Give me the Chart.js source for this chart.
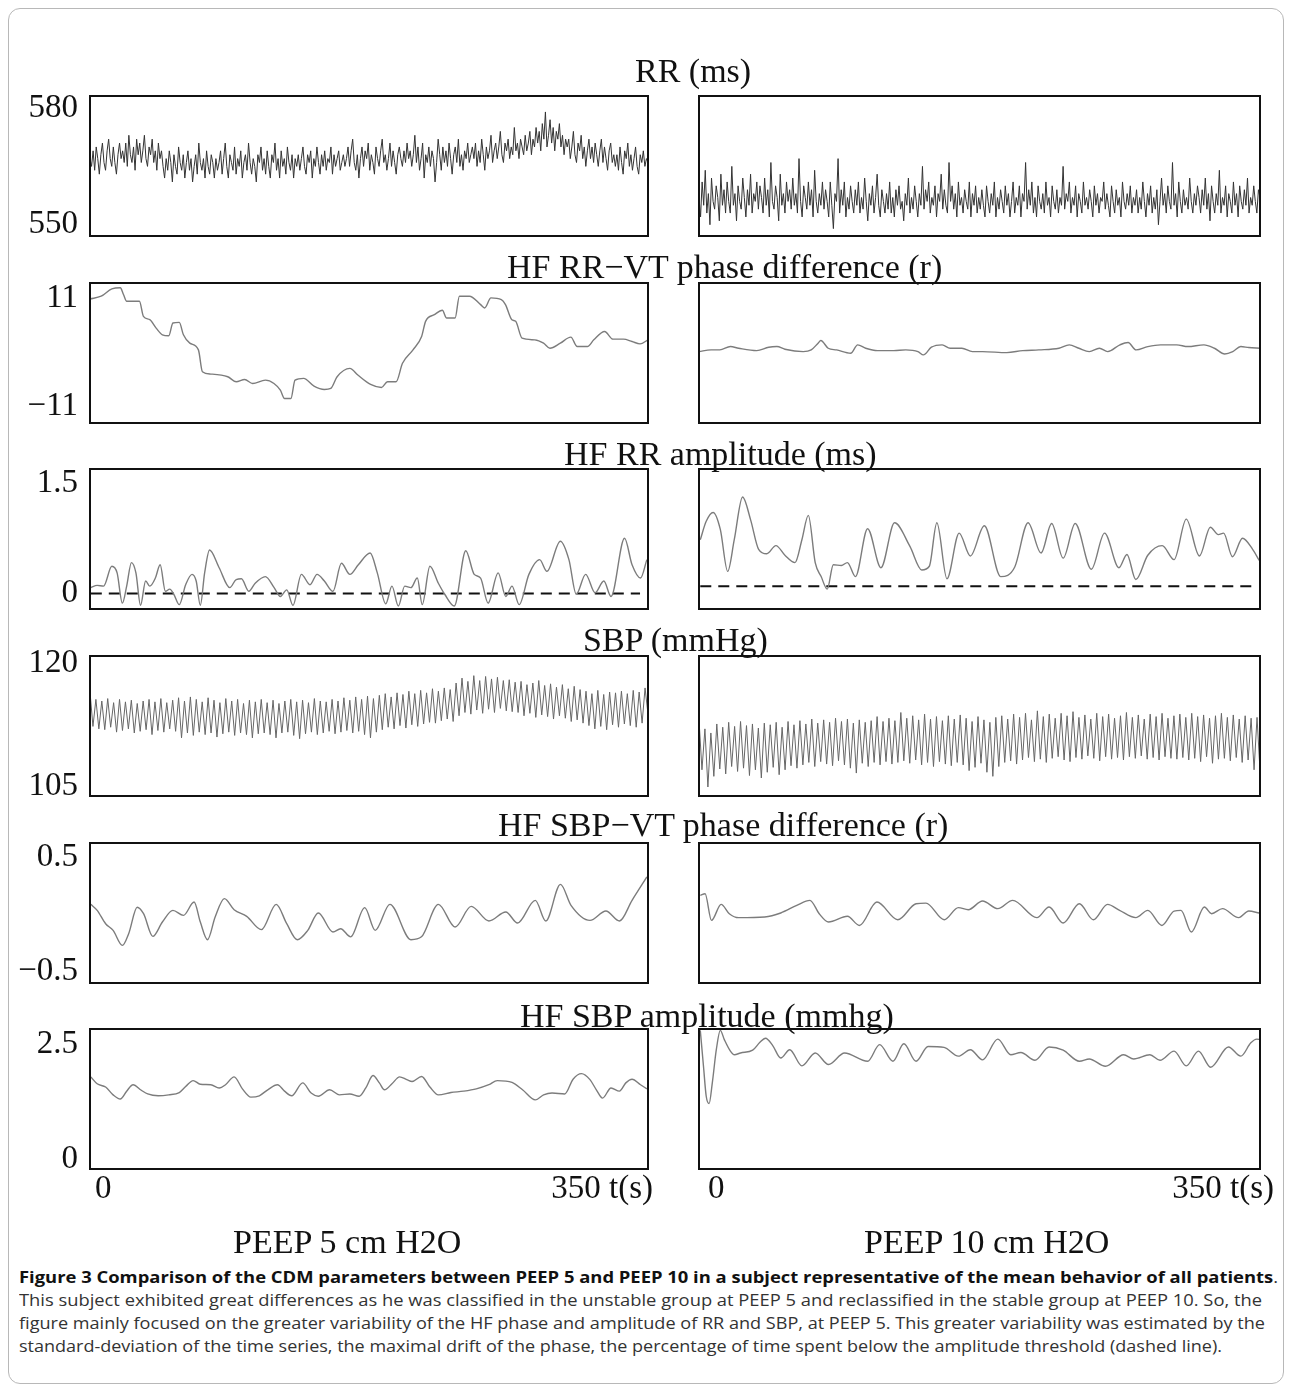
<!DOCTYPE html>
<html><head><meta charset="utf-8">
<script src="https://cdn.jsdelivr.net/npm/chart.js@4.4.1/dist/chart.umd.min.js"></script>
<style>
html,body{margin:0;padding:0;background:#fff;}
body{width:1292px;height:1391px;position:relative;overflow:hidden;font-family:"Liberation Serif","Times New Roman",serif;}
#frame{position:absolute;left:8px;top:8px;width:1276px;height:1376px;border:1px solid #b8b8b8;border-radius:12px;box-sizing:border-box;}
canvas{position:absolute;}
.ttl{position:absolute;font-size:34px;line-height:34px;white-space:nowrap;color:#111;z-index:2;}
.cap{position:absolute;left:19px;font-family:"Open Sans",sans-serif;font-size:16px;line-height:23px;white-space:nowrap;color:#333;transform-origin:0 50%;}
.cap b{color:#111;}
</style></head><body>
<div id="frame"></div>
<script>
// ---------- text ----------
const TITLES = ['RR (ms)', 'HF RR\u2212VT phase difference (r)', 'HF RR amplitude (ms)', 'SBP (mmHg)', 'HF SBP\u2212VT phase difference (r)', 'HF SBP amplitude (mmhg)'];
const CONDITIONS = ['PEEP 5 cm H2O', 'PEEP 10 cm H2O'];
const X_TICKS = [0, 350];
const X_TICK_TEXT = ['0', '350 t(s)'];

// ---------- RR (ms) ----------
const RR_TICKS = [550, 580];
const rrPeep5 = [567,565,569,564,570,567,563,568,571,566,564,569,572,567,565,570,566,563,568,571,567,
569,566,571,565,573,568,566,570,564,572,568,571,566,569,573,567,565,570,568,572,566,569,564,571,567,569,
565,562,567,564,569,566,561,568,565,563,570,566,564,568,562,566,569,564,567,561,565,568,563,571,566,564,567,562,569,565,563,568,566,562,567,564,
566,569,563,567,571,565,562,568,566,564,570,563,567,565,569,562,566,568,564,571,566,563,567,565,561,568,566,570,564,567,563,569,565,562,568,566,571,564,567,562,569,565,567,563,570,566,564,568,562,567,565,
568,564,567,570,565,563,568,566,569,562,567,565,570,566,563,568,565,569,564,567,566,570,563,568,565,567,569,564,566,568,565,
567,570,565,569,572,566,564,568,562,567,570,565,569,567,571,564,568,566,563,570,567,565,569,572,566,568,564,567,571,565,569,566,563,568,570,567,565,569,566,571,567,
569,565,568,573,566,570,564,567,571,562,568,566,570,565,569,567,561,566,572,568,564,570,566,569,565,571,567,563,568,570,566,572,565,568,564,569,567,571,566,568,570,
567,571,565,569,566,572,568,564,570,567,569,573,566,569,571,567,570,574,568,566,571,569,572,567,570,568,575,569,571,567,572,570,568,573,569,571,574,568,572,570,575,
571,574,569,576,572,579,570,573,577,571,575,569,574,572,576,570,573,568,572,570,
572,567,570,574,568,566,571,569,573,567,570,565,569,572,567,570,566,571,568,565,569,572,566,570,567,564,569,571,566,568,565,
568,564,570,566,563,569,567,571,565,568,564,567,570,565,563,568,566,569,565,567,566];
const rrPeep10 = [557,552,561,555,564,553,558,550,562,556,554,560,557,551,563,555,559,553,561,556,
553,565,555,558,551,560,556,554,562,557,552,559,555,563,553,558,556,561,554,560,
557,553,562,555,559,552,566,556,554,560,557,551,563,555,558,553,561,556,559,554,
562,555,558,553,567,556,552,560,557,554,561,555,559,552,564,556,553,558,555,561,
554,559,556,552,561,555,549,558,556,567,553,559,555,561,552,557,554,560,556,553,
559,555,561,553,557,554,562,556,551,558,555,560,553,557,563,555,552,559,556,553,
558,554,561,553,557,552,559,555,560,554,556,551,558,555,562,553,557,554,560,556,
552,558,555,565,554,559,556,561,553,557,555,560,552,558,556,563,554,559,555,553,
566,556,560,554,558,552,561,555,557,553,559,556,554,561,552,558,555,560,553,557,
554,559,555,552,560,556,553,558,555,561,552,557,554,559,556,553,560,555,558,552,
556,561,553,557,555,560,552,558,556,566,554,559,555,561,553,557,552,560,556,554,
558,553,561,555,557,552,560,556,554,559,553,557,555,565,554,558,556,561,553,557,
555,560,552,558,556,553,561,555,557,554,559,556,552,560,555,558,553,557,556,561,
554,558,555,552,560,556,553,559,555,557,552,561,556,554,558,555,560,553,557,555,
559,553,557,554,561,556,552,558,555,560,553,557,554,559,550,556,562,555,558,553,
560,556,554,566,555,558,552,561,556,553,559,555,557,554,562,556,553,558,555,560,
557,553,559,555,562,554,558,551,560,556,553,558,555,564,553,557,555,560,552,558,
556,553,561,555,558,552,560,556,554,559,555,562,553,557,555,560,556,553,559,557];

// ---------- HF RR-VT phase difference ----------
const PH_RR_TICKS = [-11, 11];
const phRRTime5 = [0,7,13.7,19,21,23,31,33.5,37.5,41.5,45.4,49.4,52,56,58.6,62.6,68,70.5,75.8,86.4,91.7,97,102,110,115.4,119.4,122,126,128.6,134,140.5,147,151,155,163,168,176,182.8,186.6,192,196,202.6,208,210.5,216,221,223.7,229,231.7,238,245,247.5,251.5,258,260.6,264.6,267,271,279,284.5,288.5,295,301.6,305.6,312,316,322.8,328,334.6,340,345,350];
const phRR5 = [10.86,11.41,12.91,13.12,11.75,10.39,10.39,7.31,6.63,4.92,3.55,3.35,5.95,6.08,3.55,1.85,0.48,-3.96,-4.44,-4.98,-6.01,-5.53,-6.35,-5.67,-6.35,-7.72,-9.42,-9.42,-5.67,-5.32,-6.90,-7.58,-7.37,-4.98,-3.28,-4.64,-6.55,-7.17,-6.01,-6.01,-2.25,0.48,3.21,6.29,7.65,8.54,6.97,6.97,11.41,11.41,9.70,9.02,11.07,10.73,9.70,6.63,6.29,2.87,2.53,1.85,0.82,1.85,3.08,1.16,1.16,2.53,4.24,2.67,2.67,2.19,1.71,2.53];
const phRRTime10 = [0,7.5,13,19.6,24.7,36,43.5,48.6,53.6,65,70,74.3,76,80.6,85.8,94.6,99,104,111.4,121.5,129,136.6,140,145,151.7,156.7,164,170.6,177,192,202,212,224.6,231,237,243.5,249.8,255,262.6,267.7,272.7,280,288,298,305,315,321.6,328,333,338,343,350];
const phRR10 = [0.14,0.48,0.48,1.16,0.82,0.34,1.03,1.16,0.62,0.14,0.48,1.85,2.39,0.82,0.48,-0.20,1.51,0.82,0.34,0.34,0.48,0.14,-0.54,1.03,1.51,0.82,0.82,0.14,0.14,-0.07,0.34,0.48,0.82,1.51,0.82,0.14,0.82,0.14,1.51,1.98,0.48,1.16,1.51,1.51,1.16,1.51,0.82,-0.34,0.14,1.16,0.96,0.82];

// ---------- HF RR amplitude ----------
const AMP_RR_TICKS = [0, 1.5];
const ampRRTime5 = [0.5,4.5,8.5,13.7,17,20.3,23,26,28.8,31.7,34.9,37.5,41,44,47.3,50,52.6,56,60,64,66.6,69.2,71.9,75,81,87.7,91.7,95,99.6,103.6,110,115.5,119.4,123.4,127.3,132.6,138,142.4,147,152.4,157.7,163,168.3,175.7,180.2,185.5,189.4,193.4,197.4,201.3,205.3,208.4,213.2,218.5,222.5,228.5,235.7,241,245,249.7,256,260.8,264.7,269.2,275.3,282,286.6,295,300.4,305,310.9,316.8,322.3,326.8,335.3,340,345.3,349.3];
const ampRR5 = [0.08,0.11,0.10,0.37,0.28,-0.13,0.10,0.42,0.28,-0.16,0.17,0.10,0.21,0.39,0.03,0.06,-0.01,-0.15,0.12,0.26,0.17,-0.16,0.28,0.59,0.35,0.08,0.19,0.20,0.03,0.14,0.23,0.08,-0.04,0.05,-0.16,0.26,0.12,0.26,0.17,0.03,0.41,0.26,0.39,0.55,0.28,-0.14,0.10,-0.17,0.10,0.08,0.21,-0.15,0.37,0.14,-0.01,-0.17,0.58,0.26,0.21,-0.13,0.28,-0.04,0.10,-0.15,0.26,0.46,0.30,0.71,0.46,-0.01,0.26,0.01,0.17,-0.04,0.75,0.39,0.21,0.46];
const ampRRTime10 = [0.8,4.5,8.8,13.3,17.9,22,27.2,32.2,37.2,42.3,48,53.6,59.9,64.2,68.2,72.5,76.2,80,83.8,88.8,92.6,97.6,105.2,113.5,122,131.6,139,143.7,148.4,154.7,162.3,169.3,178,188.2,197,205.3,213.4,220,227.2,234.7,244.8,253,262,267,272.5,280,289,296.4,304,312.2,319,324,327.3,332.8,339.1,345.4,349.5];
const ampRR10 = [0.73,0.98,1.10,0.87,0.30,0.73,1.31,1.00,0.60,0.54,0.65,0.52,0.42,0.73,1.06,0.42,0.23,0.06,0.39,0.38,0.42,0.23,0.88,0.35,0.96,0.64,0.32,0.37,0.96,0.20,0.82,0.51,0.92,0.23,0.36,0.96,0.55,0.95,0.48,0.95,0.33,0.82,0.35,0.53,0.19,0.52,0.65,0.46,1.01,0.51,0.90,0.80,0.82,0.50,0.75,0.60,0.45];
const ampRRThreshold5 = 0;
const ampRRThreshold10 = 0.1;

// ---------- SBP (mmHg) ----------
const SBP_TICKS = [105, 120];
const sbpPeep5 = [116.5,112.3,115.6,112.0,
115.4,111.9,115.7,112.2,115.2,111.6,115.6,111.8,115.3,112.0,115.5,111.5,115.1,111.7,115.4,111.9,115.6,111.3,115.3,111.8,115.7,111.6,115.2,112.0,115.5,111.7,
115.8,110.9,115.4,111.5,115.9,111.2,115.6,111.6,115.3,111.3,115.8,111.5,115.5,111.0,115.2,111.4,115.7,111.6,115.4,111.2,115.6,111.5,115.1,111.3,115.5,110.9,115.3,111.4,115.6,111.5,
115.2,111.3,115.5,110.9,115.1,111.5,115.4,111.6,115.6,111.2,115.3,110.8,115.5,111.4,115.2,111.6,115.7,111.3,115.4,111.5,115.3,111.7,115.6,111.4,115.4,111.6,115.8,111.8,115.5,111.5,115.9,111.7,115.6,111.3,116.0,110.9,115.7,111.6,
116.1,111.9,116.3,112.2,115.9,112.0,116.4,112.4,116.2,112.1,116.6,112.5,116.3,112.3,116.7,112.6,116.4,112.8,116.9,112.7,116.6,113.0,117.0,113.2,116.8,112.9,
117.6,113.6,118.2,114.0,117.8,113.8,118.5,114.3,117.9,113.9,118.4,114.4,118.1,114.0,118.3,114.5,117.9,114.2,118.0,114.1,117.7,114.0,
117.8,113.6,117.4,113.9,117.6,113.4,117.9,113.7,117.3,113.5,117.5,113.2,117.1,113.6,117.4,113.3,116.9,112.9,117.2,113.1,116.8,112.7,
116.6,112.4,116.3,112.0,116.7,112.3,116.2,111.9,116.5,112.5,116.4,112.2,116.6,112.6,116.3,112.4,116.7,112.2,116.5,112.7,117.0,113.8];
const sbpPeep10 = [113.1,107.0,112.0,104.9,111.5,106.2,
112.6,107.1,112.2,106.5,112.8,107.4,112.3,106.8,112.9,107.2,112.4,106.3,112.6,107.0,112.1,106.0,112.7,106.7,112.5,107.3,112.8,106.4,112.2,107.0,112.9,107.5,112.5,107.2,
113.0,107.6,112.6,107.9,113.2,107.4,112.7,108.0,113.1,107.7,112.8,107.5,113.3,108.1,112.9,107.6,113.2,107.2,112.7,106.6,113.1,107.8,112.8,107.4,113.0,107.9,113.5,107.6,112.9,108.0,113.3,107.7,113.0,107.9,
114.0,108.1,113.3,107.8,113.6,108.2,113.1,107.6,113.8,107.9,113.2,107.4,113.5,108.0,113.0,107.7,113.6,107.5,113.2,107.9,113.7,107.6,113.3,106.9,112.9,107.3,113.5,107.8,113.1,106.7,112.8,106.2,113.4,107.4,113.6,107.9,113.2,108.1,113.8,107.7,
113.4,108.2,113.9,108.5,113.1,108.0,114.2,108.3,113.5,107.9,113.8,108.4,113.3,108.6,113.9,108.2,113.6,108.0,114.1,108.5,113.4,108.3,113.7,108.7,113.2,108.4,113.9,108.1,113.5,108.6,113.8,108.3,113.3,108.5,113.6,108.2,114.0,108.6,113.4,108.4,113.7,108.7,113.2,108.3,113.8,108.5,113.5,108.2,113.9,108.6,113.3,108.4,113.6,108.3,
113.8,108.5,113.4,108.2,113.9,108.4,113.5,108.0,113.7,108.6,113.3,107.8,113.6,108.3,113.9,108.4,113.4,108.1,113.7,108.5,113.2,107.9,113.6,108.2,113.3,107.0,113.4,106.9];

// ---------- HF SBP-VT phase difference ----------
const PH_SBP_TICKS = [-0.5, 0.5];
const phSBPTime5 = [0.5,4.5,9.8,14.5,20.3,24.3,29.6,33.6,39.4,45.4,52,58.6,65.3,69.2,73.7,78.5,84.3,90.4,98.3,107.5,116.8,123.4,130,136.6,143.2,152.4,157.2,163.5,172.3,178.9,188.1,201.3,207.9,218.5,229,239.1,250.2,260.8,268.2,279.3,285.9,295.1,301.7,313.6,323.6,332.1,340,349.3];
const phSBP5 = [0.085,0.032,-0.085,-0.143,-0.275,-0.17,0.06,0.003,-0.196,-0.07,0.032,-0.012,0.105,-0.07,-0.225,-0.026,0.135,0.038,-0.02,-0.137,0.085,-0.085,-0.225,-0.143,0.009,-0.158,-0.129,-0.2,0.056,-0.143,0.085,-0.225,-0.2,0.085,-0.114,0.067,-0.061,0.018,-0.079,0.12,-0.061,0.26,0.076,-0.056,0.026,-0.061,0.12,0.325];
const phSBPTime10 = [0.8,3.8,7.8,13.8,18.9,24.7,41,51,61,69.2,75,80.8,92.6,100.1,111,124,135.4,141.6,153,161.8,168,176.9,186.4,195.7,210.8,218.4,227.2,237.3,246,254.9,262.4,272.5,280,288.8,296.4,300.7,307.2,315.3,319.8,326.6,336.7,343,349.5];
const phSBP10 = [0.164,0.178,-0.056,0.085,0.003,-0.032,-0.026,0.009,0.076,0.12,0.003,-0.07,-0.02,-0.1,0.105,-0.05,0.09,0.096,-0.05,0.056,0.038,0.114,0.047,0.12,-0.032,0.061,-0.079,0.09,-0.05,0.085,0.032,-0.032,0.032,-0.1,0.026,0.032,-0.158,0.061,0.003,0.047,-0.032,0.026,0.009];

// ---------- HF SBP amplitude ----------
const AMP_SBP_TICKS = [0, 2.5];
const ampSBPTime5 = [0.5,4.5,9.8,14.5,19,23,27,32.2,36.2,42.8,49.4,56,60,64.7,69.2,75.8,81,85,90.4,95.6,100.9,106.2,111.5,117.6,122,126.5,133.4,138.7,143.2,150.3,156.4,163,168.8,173,177.5,181.5,184.7,189.4,194.2,198.7,202,208,213.2,218.5,226.4,234.3,242.3,250.2,255.5,264.7,271.3,279.3,284.5,289.8,297.8,303,308.3,313.6,317.6,321.5,326.8,332.1,336.1,340,345.3,349.3];
const ampSBP5 = [1.80,1.65,1.58,1.41,1.32,1.49,1.63,1.51,1.43,1.39,1.41,1.46,1.59,1.72,1.64,1.63,1.56,1.63,1.80,1.54,1.36,1.39,1.52,1.63,1.49,1.39,1.67,1.45,1.38,1.52,1.41,1.43,1.38,1.56,1.83,1.67,1.52,1.65,1.80,1.74,1.70,1.81,1.58,1.41,1.46,1.49,1.54,1.63,1.72,1.68,1.52,1.30,1.41,1.45,1.43,1.75,1.87,1.74,1.52,1.34,1.56,1.49,1.67,1.75,1.63,1.54];
const ampSBPTime10 = [0.8,2.8,4.5,6.3,8.3,10.8,13.3,15.8,19.6,22.1,25.9,33.5,38,41.5,46,51,56.6,64.2,72.5,80.8,90.8,105.2,112.7,121,127.8,135.4,142.9,152.9,161.8,169.3,176.9,186.4,194.5,200.8,209.6,218.4,227.2,237.3,243.5,253.6,264.9,271.2,281.3,287.6,296.4,304,311.6,319.2,330.3,338,344.3,348,350];
const ampSBP10 = [2.81,2.03,1.38,1.22,1.67,2.39,2.81,2.61,2.36,2.28,2.32,2.38,2.55,2.64,2.48,2.21,2.39,2.04,2.32,2.07,2.32,2.14,2.50,2.14,2.52,2.14,2.46,2.44,2.25,2.39,2.17,2.62,2.28,2.33,2.16,2.45,2.38,2.14,2.19,2.03,2.28,2.19,2.28,2.16,2.36,2.04,2.36,2.01,2.45,2.25,2.54,2.62,2.61];

// ---------- layout (presentation only) ----------
const ROW_TOP = [96, 283, 469, 656, 843, 1029];
const BOX_H = 140;
const COL = [{canvasLeft:0, width:660, padL:0, padR:12, axisW:90, x0Off:5, x1Off:5},
             {canvasLeft:680, width:600, padL:19, padR:20, axisW:0, x0Off:9, x1Off:14}];
const PAD_T = 42, PAD_B = 42;
const SERIF = '"Liberation Serif", "Times New Roman", serif';

function pts(times, vals){ return vals.map((v,i)=>({x:times[i], y:v})); }
function densePts(vals){ const n = vals.length; return vals.map((v,i)=>({x: X_TICKS[1]*i/(n-1), y:v})); }

const boxPlugin = {id:'box', afterDraw(chart){ const a = chart.chartArea, c = chart.ctx; c.save(); c.strokeStyle='#111'; c.lineWidth=2; c.strokeRect(a.left, a.top, a.right-a.left, a.bottom-a.top); c.restore(); }};
function xLabelPlugin(col){ return {id:'xlab', afterDraw(chart){
  const s = chart.scales.x, a = chart.chartArea, c = chart.ctx; c.save();
  c.fillStyle='#111'; c.font = '33px ' + SERIF; c.textBaseline='middle';
  c.textAlign='left'; c.fillText(X_TICK_TEXT[0], s.getPixelForValue(X_TICKS[0]) + COL[col].x0Off, a.bottom + 20);
  c.textAlign='right'; c.fillText(X_TICK_TEXT[1], s.getPixelForValue(X_TICKS[1]) + COL[col].x1Off, a.bottom + 20);
  c.restore(); }}; }

const SMOOTH = {borderColor:'#7c7c7c', borderWidth:1.4, cubicInterpolationMode:'monotone'};
const NOISY_RR = {borderColor:'#333', borderWidth:1, tension:0};
const NOISY_SBP = {borderColor:'#666', borderWidth:1, tension:0};
function dashed(y, x0, x1){ return {data:[{x:x0,y:y},{x:x1,y:y}], borderColor:'#111', borderWidth:2, borderDash:[11,7], tension:0}; }

const ROWS = [
  {min:547.1, max:583.1, ticks:RR_TICKS, sets:[[Object.assign({data:densePts(rrPeep5)},NOISY_RR)],[Object.assign({data:densePts(rrPeep10)},NOISY_RR)]]},
  {min:-14.4, max:14.1, ticks:PH_RR_TICKS, sets:[[Object.assign({data:pts(phRRTime5,phRR5)},SMOOTH)],[Object.assign({data:pts(phRRTime10,phRR10)},SMOOTH)]]},
  {min:-0.21, max:1.69, ticks:AMP_RR_TICKS, sets:[[Object.assign({data:pts(ampRRTime5,ampRR5)},SMOOTH), dashed(ampRRThreshold5,0.5,345)],[Object.assign({data:pts(ampRRTime10,ampRR10)},SMOOTH), dashed(ampRRThreshold10,0.8,348)]]},
  {min:103.8, max:120.9, ticks:SBP_TICKS, sets:[[Object.assign({data:densePts(sbpPeep5)},NOISY_SBP)],[Object.assign({data:densePts(sbpPeep10)},NOISY_SBP)]]},
  {min:-0.605, max:0.623, ticks:PH_SBP_TICKS, sets:[[Object.assign({data:pts(phSBPTime5,phSBP5)},SMOOTH)],[Object.assign({data:pts(phSBPTime10,phSBP10)},SMOOTH)]]},
  {min:-0.2, max:2.84, ticks:AMP_SBP_TICKS, sets:[[Object.assign({data:pts(ampSBPTime5,ampSBP5)},SMOOTH)],[Object.assign({data:pts(ampSBPTime10,ampSBP10)},SMOOTH)]]}
];

ROWS.forEach((row, r) => {
  [0,1].forEach(col => {
    const cd = COL[col];
    const last = r === ROWS.length-1;
    const padB = last ? 60 : PAD_B;
    const cv = document.createElement('canvas');
    const h = BOX_H + PAD_T + padB;
    cv.width = cd.width; cv.height = h;
    cv.style.left = cd.canvasLeft + 'px'; cv.style.top = (ROW_TOP[r] - PAD_T) + 'px';
    cv.style.width = cd.width + 'px'; cv.style.height = h + 'px';
    document.body.appendChild(cv);
    const datasets = row.sets[col].map(d => Object.assign({pointRadius:0, fill:false}, d));
    const plugins = [boxPlugin];
    if (last) plugins.push(xLabelPlugin(col));
    new Chart(cv, {
      type:'line',
      data:{datasets},
      options:{
        responsive:false, animation:false, devicePixelRatio:1,
        layout:{padding:{left:cd.padL, right:cd.padR, top:PAD_T, bottom:padB}},
        plugins:{legend:{display:false}, tooltip:{enabled:false}},
        scales:{
          x:{type:'linear', min:X_TICKS[0], max:X_TICKS[1], display:false},
          y:{type:'linear', min:row.min, max:row.max, display: col===0,
             afterBuildTicks:(ax)=>{ ax.ticks = row.ticks.map(v=>({value:v})); },
             afterFit:(ax)=>{ ax.width = cd.axisW; },
             grid:{display:false, drawTicks:false}, border:{display:false},
             ticks:{padding:12, color:'#111', font:{family:SERIF, size:33}, callback:(v)=>String(v).replace('-', '\u2212')}}
        }
      },
      plugins
    });
  });
});

// ---------- titles ----------
const TITLE_POS = [[635,71],[507,267],[564,454],[583,640],[498,825],[520,1016]];
TITLES.forEach((t,i)=>{ const d=document.createElement('div'); d.className='ttl'; d.textContent=t; d.style.left=TITLE_POS[i][0]+'px'; d.style.top=(TITLE_POS[i][1]-17)+'px'; document.body.appendChild(d); });
const COND_POS = [[233,1242],[864,1242]];
CONDITIONS.forEach((t,i)=>{ const d=document.createElement('div'); d.className='ttl'; d.textContent=t; d.style.left=COND_POS[i][0]+'px'; d.style.top=(COND_POS[i][1]-17)+'px'; document.body.appendChild(d); });

// ---------- caption ----------
const CAPTION = [
  ['<b>Figure 3 Comparison of the CDM parameters between PEEP 5 and PEEP 10 in a subject representative of the mean behavior of all patients</b>.', 1259],
  ['This subject exhibited great differences as he was classified in the unstable group at PEEP 5 and reclassified in the stable group at PEEP 10. So, the', 1243],
  ['figure mainly focused on the greater variability of the HF phase and amplitude of RR and SBP, at PEEP 5. This greater variability was estimated by the', 1246],
  ['standard-deviation of the time series, the maximal drift of the phase, the percentage of time spent below the amplitude threshold (dashed line).', 1203]
];
const capEls = CAPTION.map((c,i)=>{ const d=document.createElement('div'); d.className='cap'; d.innerHTML=c[0]; d.style.top=(1266+23*i)+'px'; document.body.appendChild(d); return d; });
function fitCaption(){ capEls.forEach((d,i)=>{ d.style.transform='none'; const w=d.getBoundingClientRect().width; if(w>0) d.style.transform='scaleX('+(CAPTION[i][1]/w)+')'; }); }
fitCaption();
if (document.fonts && document.fonts.ready) document.fonts.ready.then(fitCaption);
</script>
</body></html>
